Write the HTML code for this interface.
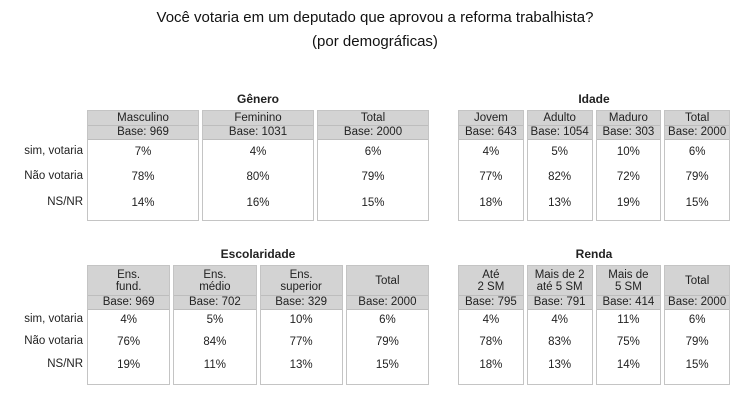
<!DOCTYPE html>
<html><head><meta charset="utf-8"><style>
body{margin:0;width:750px;height:400px;background:#fff;position:relative;overflow:hidden;font-family:"Liberation Sans",sans-serif;color:#222}
.t{position:absolute;left:0;width:750px;text-align:center;font-size:15px;color:#111}
.gt{position:absolute;font-weight:bold;font-size:12px;text-align:center}
.col{position:absolute;border:1px solid #c4c4c4;background:#fff;box-sizing:border-box}
.h{background:#d3d3d3;text-align:center;font-size:11.5px;line-height:12px;border-bottom:1px solid #bdbdbd;display:flex;align-items:center;justify-content:center}
.b{background:#d3d3d3;text-align:center;font-size:11.5px;line-height:13px;border-bottom:1px solid #bdbdbd}
.v{position:absolute;left:0;right:0;text-align:center;font-size:11.5px}
.rl{position:absolute;right:667px;font-size:11.5px;text-align:right;white-space:nowrap}
</style></head><body>
<div class="t" style="top:9px">Você votaria em um deputado que aprovou a reforma trabalhista?</div>
<div class="t" style="top:33px">(por demográficas)</div>
<div id="root"></div>
<script>
const rowLabels=["sim, votaria","Não votaria","NS/NR"];
const generoCats=["Masculino","Feminino","Total"];
const generoBase=[969,1031,2000];
const generoVals=[[7,78,14],[4,80,16],[6,79,15]];
const idadeCats=["Jovem","Adulto","Maduro","Total"];
const idadeBase=[643,1054,303,2000];
const idadeVals=[[4,77,18],[5,82,13],[10,72,19],[6,79,15]];
const escCats=["Ens.<br>fund.","Ens.<br>médio","Ens.<br>superior","Total"];
const escBase=[969,702,329,2000];
const escVals=[[4,76,19],[5,84,11],[10,77,13],[6,79,15]];
const rendaCats=["Até<br>2 SM","Mais de 2<br>até 5 SM","Mais de<br>5 SM","Total"];
const rendaBase=[795,791,414,2000];
const rendaVals=[[4,78,18],[4,83,13],[11,75,14],[6,79,15]];

const root=document.getElementById('root');
function group(name,title,cats,base,vals,x0,x1,top,hh,bottom,rowYs,labels){
  const t=document.createElement('div');
  t.className='gt';
  
  
  t.style.left=x0+'px';t.style.width=(x1-x0)+'px';t.style.top=(top-18)+'px';
  t.textContent=title;root.appendChild(t);
  const n=cats.length, gap=3, w=(x1-x0-gap*(n-1))/n;
  cats.forEach((c,i)=>{
    const col=document.createElement('div');
    col.className='col';
    
    
    col.style.left=(x0+i*(w+gap))+'px';col.style.width=w+'px';
    col.style.top=top+'px';col.style.height=(bottom-top)+'px';
    const h=document.createElement('div');h.className='h';h.style.height=hh+'px';
    
    
    h.innerHTML=c;col.appendChild(h);
    const b=document.createElement('div');b.className='b';
    
    
    b.textContent='Base: '+base[i];col.appendChild(b);
    vals[i].forEach((v,j)=>{
      const d=document.createElement('div');d.className='v';
      
      
      d.style.top=(rowYs[j]-top-8)+'px';d.textContent=v+'%';col.appendChild(d);
    });
    root.appendChild(col);
  });
  if(labels){
    rowLabels.forEach((l,j)=>{
      const d=document.createElement('div');d.className='rl';
      
      
      d.style.top=(rowYs[j]-8)+'px';d.textContent=l;root.appendChild(d);
    });
  }
}
group('genero','Gênero',generoCats,generoBase,generoVals,87,429,110,14,221,[153,178,204],true);
group('idade','Idade',idadeCats,idadeBase,idadeVals,458,730,110,14,221,[153,178,204],false);
group('escolaridade','Escolaridade',escCats,escBase,escVals,87,429,265,29,385,[321,343,366],true);
group('renda','Renda',rendaCats,rendaBase,rendaVals,458,730,265,29,385,[321,343,366],false);
</script>
</body></html>
